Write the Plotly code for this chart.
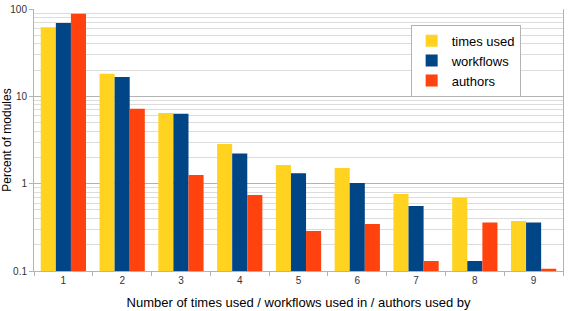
import plotly.graph_objects as go

categories = ["1", "2", "3", "4", "5", "6", "7", "8", "9"]
times_used = [62, 18.1, 6.45, 2.85, 1.64, 1.51, 0.76, 0.69, 0.374]
workflows = [69, 16.7, 6.3, 2.21, 1.32, 1.02, 0.556, 0.13, 0.36]
authors = [88, 7.2, 1.26, 0.74, 0.287, 0.345, 0.13, 0.36, 0.106]

series = [("times used", times_used, "#FFD320"),
          ("workflows", workflows, "#004586"),
          ("authors", authors, "#FF420E")]

minor_vals = [m * 10 ** e for e in (-1, 0, 1) for m in range(2, 10)]

fig = go.Figure()
for name, vals, col in series:
    fig.add_trace(go.Bar(x=categories, y=vals, name=name, marker_color=col,
                         marker_line_width=0))

fig.update_layout(
    width=570, height=311,
    margin=dict(l=34, r=7, t=9, b=40),
    paper_bgcolor="white", plot_bgcolor="white",
    barmode="group", bargap=0.23, bargroupgap=0,
    font=dict(family="Liberation Sans, Arial, sans-serif", color="#000"),
    legend=dict(x=0.712, y=0.94, xanchor="left", yanchor="top",
                bgcolor="white", bordercolor="#b3b3b3", borderwidth=1,
                font=dict(size=13), itemwidth=30, tracegroupgap=0),
    xaxis=dict(title=dict(text="Number of times used / workflows used in / authors used by",
                          font=dict(size=13), standoff=12),
               automargin=False,
               tickfont=dict(size=10, color="#333"),
               ticks="outside", tickson="boundaries", ticklen=4, tickcolor="#b3b3b3",
               showline=True, linecolor="#b3b3b3", mirror=False, showgrid=False),
    yaxis=dict(type="log", range=[-1, 2], automargin=False,
               tickvals=[0.1, 1, 10, 100], ticktext=["0.1", "1", "10", "100"],
               title=dict(text="Percent of modules", font=dict(size=12), standoff=4),
               tickfont=dict(size=10, color="#333"),
               ticks="outside", ticklen=4, tickcolor="#b3b3b3",
               showline=True, linecolor="#b3b3b3", mirror=True,
               showgrid=True, gridcolor="#b3b3b3",
               minor=dict(tickvals=minor_vals, showgrid=True, gridcolor="#dcdcdc", ticks="")),
)

fig.write_html("out.html")
